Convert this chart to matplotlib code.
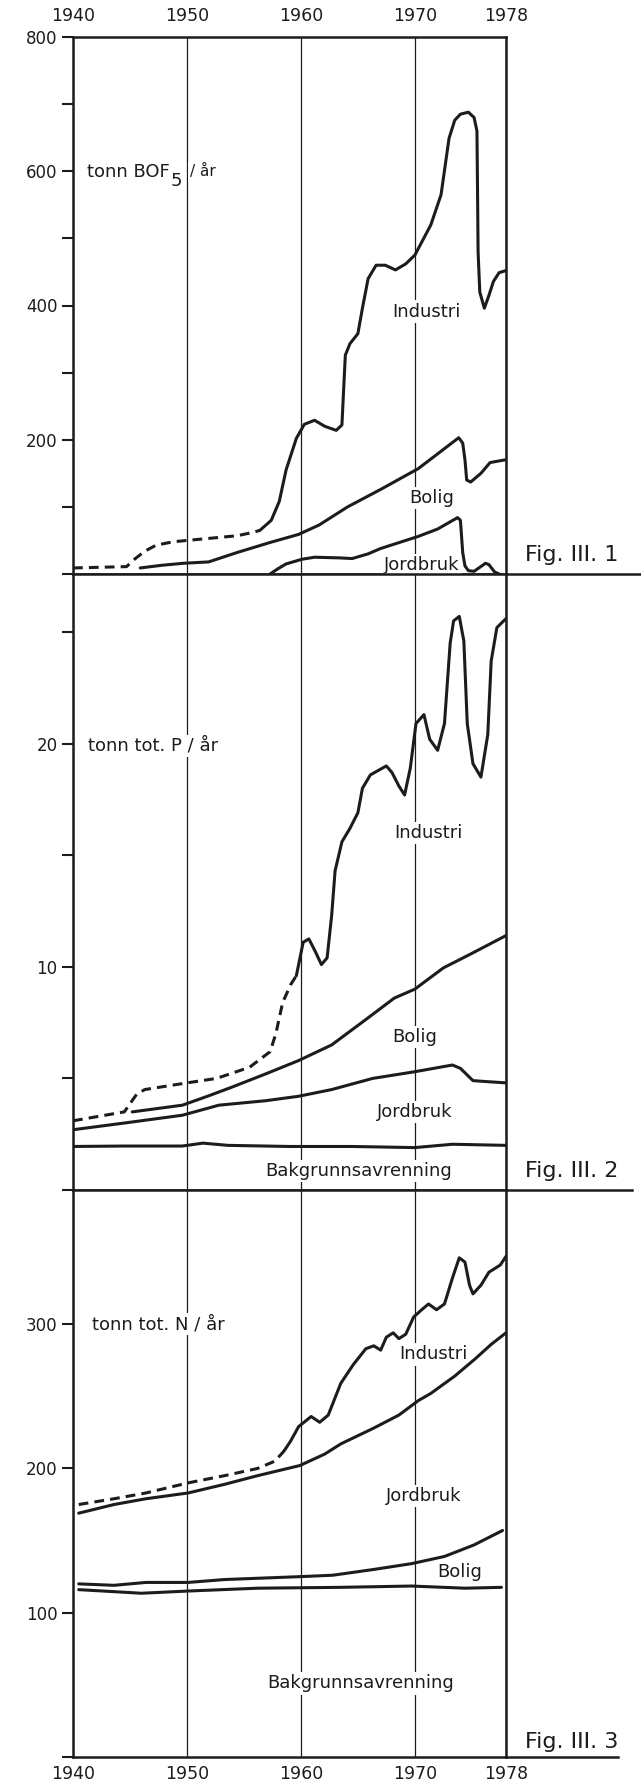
import matplotlib.pyplot as plt

# ---- Fig. III.1  tonn BOF5 / år ----
bof_ind_dash_yr = [1940, 1944.7, 1945.4, 1946.3, 1947.3, 1948.8, 1950.0, 1951.9, 1954.4, 1955.8, 1956.4]
bof_ind_dash = [9, 11, 22, 34, 43, 48, 50, 53, 57, 62, 65]
bof_ind_yr = [1956.4, 1957.4, 1958.1, 1958.7, 1959.6, 1960.3, 1961.2, 1962.1, 1963.1, 1963.6, 1963.9,
              1964.3, 1965.0, 1965.4, 1965.9, 1966.6, 1967.4, 1968.3, 1969.2, 1970.0, 1971.4, 1972.3,
              1973.0, 1973.5, 1974.0, 1974.7, 1975.2, 1975.45, 1975.5, 1975.55, 1975.7, 1976.1, 1976.5,
              1976.9, 1977.4, 1978.0]
bof_ind = [65, 80, 108, 155, 202, 223, 229, 220, 214, 222, 326,
           343, 358, 396, 440, 460, 460, 453, 462, 475, 520, 565,
           649, 676, 685, 688, 680, 660, 575, 480, 420, 396, 415,
           436, 449, 452]
bof_bol_yr = [1945.9, 1947.8, 1949.7, 1951.9, 1954.4, 1957.3, 1959.8, 1961.6, 1964.1, 1967.0, 1970.3,
              1972.0, 1973.85, 1974.2, 1974.4, 1974.55, 1974.9, 1975.8, 1976.6, 1977.9]
bof_bol = [9, 13, 16, 18, 32, 47, 59, 73, 100, 126, 157,
           179, 203, 195, 170, 140, 137, 150, 166, 170]
bof_jord_yr = [1957.3, 1958.0, 1958.7, 1960.1, 1961.2, 1963.4, 1964.5, 1965.9, 1967.0, 1970.3, 1972.0,
               1973.75, 1974.0, 1974.2, 1974.4, 1974.7, 1975.2, 1975.7, 1976.2, 1976.5, 1977.0, 1977.4]
bof_jord = [0, 8, 15, 22, 25, 24, 23, 30, 38, 56, 67,
            84, 80, 32, 12, 5, 4, 10, 16, 14, 3, 0]

# ---- Fig. III.2  tonn tot. P / år ----
p_ind_dash_yr = [1940, 1944.5, 1945.6, 1946.3, 1950.0, 1952.6, 1955.5, 1957.3, 1957.8, 1958.4, 1959.1, 1959.6]
p_ind_dash = [3.1, 3.5, 4.3, 4.5, 4.8, 5.0, 5.5, 6.2, 7.0, 8.4, 9.2, 9.6]
p_ind_yr = [1959.6, 1960.2, 1960.7, 1961.25, 1961.8, 1962.3, 1962.7, 1963.0, 1963.6, 1964.3, 1965.0,
            1965.4, 1966.1, 1967.5, 1968.0, 1968.6, 1969.1, 1969.6, 1970.1, 1970.8, 1971.3, 1972.0,
            1972.6, 1973.1, 1973.4, 1973.9, 1974.3, 1974.6, 1975.1, 1975.8, 1976.4, 1976.7, 1977.2, 1978.0]
p_ind = [9.6, 11.1, 11.25, 10.7, 10.1, 10.4, 12.3, 14.3, 15.6, 16.2, 16.9,
         18.0, 18.6, 19.0, 18.7, 18.1, 17.7, 18.9, 20.9, 21.3, 20.2, 19.7,
         20.9, 24.5, 25.5, 25.7, 24.6, 20.9, 19.1, 18.5, 20.4, 23.7, 25.2, 25.6]
p_bol_yr = [1945.2, 1949.6, 1951.8, 1953.9, 1956.9, 1959.8, 1962.7, 1965.6, 1968.2, 1970.0, 1972.5, 1975.0, 1978.0]
p_bol = [3.5, 3.8, 4.2, 4.6, 5.2, 5.8, 6.5, 7.6, 8.6, 9.0, 9.95, 10.6, 11.4]
p_jord_yr = [1940, 1944.5, 1949.6, 1952.8, 1956.9, 1959.8, 1962.7, 1966.3, 1970.0, 1973.3, 1974.0,
             1975.1, 1976.5, 1978.0]
p_jord = [2.7, 3.0, 3.35, 3.8, 4.0, 4.2, 4.5, 5.0, 5.3, 5.6, 5.45, 4.9, 4.85, 4.8]
p_bakg_yr = [1940, 1944.5, 1949.6, 1951.4, 1953.6, 1959.0, 1964.5, 1970.0, 1973.3, 1978.0]
p_bakg = [1.95, 1.97, 1.97, 2.1, 2.0, 1.95, 1.95, 1.9, 2.05, 2.0]

# ---- Fig. III.3  tonn tot. N / år ----
n_ind_dash_yr = [1940.5, 1943.6, 1946.4, 1950.1, 1953.3, 1956.2, 1957.7, 1958.4, 1958.6]
n_ind_dash = [175, 179, 183, 190, 195, 200, 205, 211, 213]
n_ind_yr = [1958.6, 1959.1, 1959.8, 1960.9, 1961.65, 1962.4, 1963.5, 1964.6, 1965.7, 1966.4, 1967.0,
            1967.5, 1968.1, 1968.6, 1969.2, 1969.9, 1970.6, 1971.2, 1971.9, 1972.6, 1973.3, 1973.9,
            1974.4, 1974.8, 1975.1, 1975.8, 1976.5, 1977.5, 1978.0]
n_ind = [213, 219, 229, 236, 232, 237, 259, 272, 283, 285, 282,
         291, 294, 290, 293, 305, 310, 314, 310, 314, 332, 346,
         343, 327, 321, 327, 336, 341, 347]
n_jord_yr = [1940.5, 1943.6, 1946.4, 1950.1, 1953.3, 1956.2, 1959.9, 1962.1, 1963.5, 1966.4, 1968.6,
             1970.3, 1971.4, 1973.5, 1975.3, 1976.7, 1978.0]
n_jord = [169, 175, 179, 183, 189, 195, 202, 210, 217, 228, 237, 247, 252, 264, 276, 286, 294]
n_bol_yr = [1940.5, 1943.6, 1946.4, 1950.1, 1953.3, 1959.9, 1962.8, 1966.4, 1969.7, 1972.6, 1975.2, 1977.7]
n_bol = [120, 119, 121, 121, 123, 125, 126, 130, 134, 139, 147, 157]
n_bakg_yr = [1940.5, 1946.0, 1950.0, 1956.2, 1963.5, 1969.7, 1974.4, 1977.6]
n_bakg = [116, 113.5, 115, 117, 117.6, 118.5, 117, 117.6]

year_ticks = [1940, 1950, 1960, 1970, 1978]
year_labels = ['1940', '1950', '1960', '1970', '1978']

ink = '#1c1c1c'
lw = 2.2
dash = (3.2, 2.0)

fig = plt.figure(figsize=(6.41, 17.91), dpi=100)
left, width = 73 / 641, 433 / 641
ax1 = fig.add_axes([left, 1 - 574 / 1791, width, 537 / 1791])
ax2 = fig.add_axes([left, 1 - 1190 / 1791, width, 616 / 1791])
ax3 = fig.add_axes([left, 1 - 1757 / 1791, width, 567 / 1791])

for ax in (ax1, ax2, ax3):
    ax.set_xlim(1940, 1978)
    ax.set_xticks(year_ticks)
    ax.grid(axis='x', color=ink, lw=0.9, zorder=1)
    ax.set_axisbelow(True)
    for s in ax.spines.values():
        s.set_linewidth(1.8)
        s.set_color(ink)
    ax.tick_params(axis='y', direction='out', length=8, width=1.5, pad=3, labelsize=12, colors=ink)
    ax.tick_params(axis='x', length=0, labelsize=12.5, colors=ink)

ax1.xaxis.tick_top()
ax1.tick_params(axis='x', pad=9)
ax2.tick_params(axis='x', labelbottom=False)
ax3.tick_params(axis='x', pad=6)
ax1.set_xticklabels(year_labels)
ax3.set_xticklabels(year_labels)

ax1.set_ylim(0, 800)
ax1.set_yticks(range(0, 801, 100))
ax1.set_yticklabels(['', '', '200', '', '400', '', '600', '', '800'])
ax2.set_ylim(0, 27.6)
ax2.set_yticks([0, 5, 10, 15, 20, 25])
ax2.set_yticklabels(['', '', '10', '', '20', ''])
ax3.set_ylim(0, 393)
ax3.set_yticks([0, 100, 200, 300])
ax3.set_yticklabels(['', '100', '200', '300'])

kw = dict(color=ink, lw=lw, solid_capstyle='round', solid_joinstyle='round', zorder=4)
dkw = dict(color=ink, lw=lw, dashes=dash, zorder=4)

ax1.plot(bof_ind_dash_yr, bof_ind_dash, **dkw)
ax1.plot(bof_ind_yr, bof_ind, **kw)
ax1.plot(bof_bol_yr, bof_bol, **kw)
ax1.plot(bof_jord_yr, bof_jord, **kw)

ax2.plot(p_ind_dash_yr, p_ind_dash, **dkw)
ax2.plot(p_ind_yr, p_ind, **kw)
ax2.plot(p_bol_yr, p_bol, **kw)
ax2.plot(p_jord_yr, p_jord, **kw)
ax2.plot(p_bakg_yr, p_bakg, **kw)

ax3.plot(n_ind_dash_yr, n_ind_dash, **dkw)
ax3.plot(n_ind_yr, n_ind, **kw)
ax3.plot(n_jord_yr, n_jord, **kw)
ax3.plot(n_bol_yr, n_bol, **kw)
ax3.plot(n_bakg_yr, n_bakg, **kw)

# separator lines running out to the right of each panel
for ax, end in ((ax1, 1989.9), (ax2, 1989.1), (ax3, 1987.8)):
    ax.plot([1978, end], [0, 0], color=ink, lw=1.8, clip_on=False, zorder=5)

box = dict(facecolor='white', edgecolor='none', pad=1.5)
tk = dict(fontsize=13, color=ink, ha='center', va='center', bbox=box, zorder=3)

ax1.text(1971.0, 391, 'Industri', **tk)
ax1.text(1971.5, 113, 'Bolig', **tk)
ax1.text(1970.6, 13, 'Jordbruk', **tk)
t1 = ax1.text(1941.2, 592, 'tonn BOF', fontsize=13, color=ink, ha='left', va='baseline',
              bbox=box, zorder=3)
ax1.annotate('5', xy=(1, 0), xycoords=t1, xytext=(1, -4), textcoords='offset points',
             fontsize=13, color=ink, ha='left', va='baseline', bbox=box, zorder=3)
ax1.annotate('/ år', xy=(1, 0), xycoords=t1, xytext=(15, 3), textcoords='offset points',
             fontsize=11, color=ink, ha='left', va='baseline', bbox=box, zorder=3)

ax2.text(1971.2, 16.0, 'Industri', **tk)
ax2.text(1970.0, 6.85, 'Bolig', **tk)
ax2.text(1970.0, 3.5, 'Jordbruk', **tk)
ax2.text(1965.1, 0.86, 'Bakgrunnsavrenning', **tk)
ax2.text(1941.3, 19.9, 'tonn tot. P / år', fontsize=13, color=ink, ha='left', va='center', bbox=box, zorder=3)

ax3.text(1971.6, 279, 'Industri', **tk)
ax3.text(1970.8, 181, 'Jordbruk', **tk)
ax3.text(1973.9, 128.5, 'Bolig', **tk)
ax3.text(1965.2, 51, 'Bakgrunnsavrenning', **tk)
ax3.text(1941.7, 300, 'tonn tot. N / år', fontsize=13, color=ink, ha='left', va='center', bbox=box, zorder=3)

ax1.text(1979.7, 28, 'Fig. III. 1', fontsize=16, color=ink, ha='left', va='center')
ax2.text(1979.7, 0.86, 'Fig. III. 2', fontsize=16, color=ink, ha='left', va='center')
ax3.text(1979.7, 10.5, 'Fig. III. 3', fontsize=16, color=ink, ha='left', va='center')

fig.savefig('out.png', dpi=100, facecolor='white')
